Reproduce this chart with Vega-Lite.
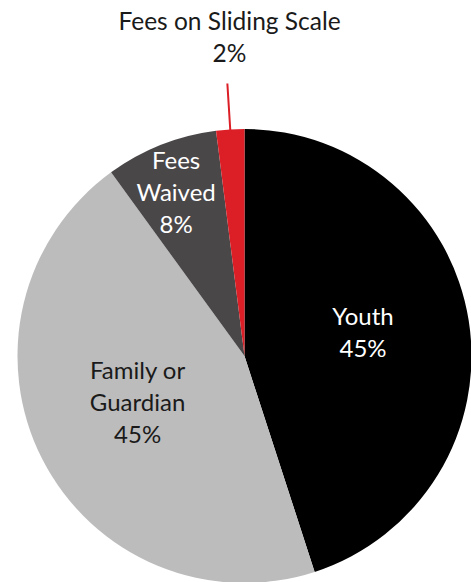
{
  "$schema": "https://vega.github.io/schema/vega-lite/v6.json",
  "width": 440,
  "height": 440,
  "autosize": {"type": "none"},
  "padding": {"left": 24.5, "top": 136, "right": 6.5, "bottom": 6},
  "background": "white",
  "config": {"view": {"stroke": null}},
  "data": {
    "values": [
      {"cat": "Youth", "value": 45, "o": 1, "label": "Youth\n45%"},
      {"cat": "Family or Guardian", "value": 45, "o": 2, "label": "Family or\nGuardian\n45%"},
      {"cat": "Fees Waived", "value": 8, "o": 3, "label": "Fees\nWaived\n8%"},
      {"cat": "Fees on Sliding Scale", "value": 2, "o": 4, "label": "Fees on Sliding Scale\n2%"}
    ]
  },
  "layer": [
    {
      "mark": {"type": "arc", "outerRadius": 227},
      "encoding": {
        "theta": {"field": "value", "type": "quantitative", "stack": true, "scale": {"domain": [0, 100]}},
        "order": {"field": "o", "type": "quantitative"},
        "color": {
          "field": "cat", "type": "nominal", "legend": null,
          "scale": {"domain": ["Youth", "Family or Guardian", "Fees Waived", "Fees on Sliding Scale"], "range": ["#000000", "#bcbcbc", "#4a4749", "#dc1e26"]}
        }
      }
    },
    {
      "mark": {"type": "text", "radius": 120, "dy": -19, "font": "Lato", "fontSize": 24, "lineBreak": "\n", "lineHeight": 32, "fill": "#ffffff", "align": "center", "baseline": "middle"},
      "encoding": {
        "theta": {"field": "value", "type": "quantitative", "stack": true, "scale": {"domain": [0, 100]}},
        "order": {"field": "o", "type": "quantitative"},
        "text": {"condition": {"test": "datum.o == 1", "field": "label"}, "value": ""}
      }
    },
    {
      "mark": {"type": "text", "radius": 120, "dy": -38, "font": "Lato", "fontSize": 24, "lineBreak": "\n", "lineHeight": 32, "fill": "#1a1a1a", "align": "center", "baseline": "middle"},
      "encoding": {
        "theta": {"field": "value", "type": "quantitative", "stack": true, "scale": {"domain": [0, 100]}},
        "order": {"field": "o", "type": "quantitative"},
        "text": {"condition": {"test": "datum.o == 2", "field": "label"}, "value": ""}
      }
    },
    {
      "mark": {"type": "text", "radius": 175, "dx": -4, "dy": -31, "font": "Lato", "fontSize": 24, "lineBreak": "\n", "lineHeight": 32, "fill": "#ffffff", "align": "center", "baseline": "middle"},
      "encoding": {
        "theta": {"field": "value", "type": "quantitative", "stack": true, "scale": {"domain": [0, 100]}},
        "order": {"field": "o", "type": "quantitative"},
        "text": {"condition": {"test": "datum.o == 3", "field": "label"}, "value": ""}
      }
    },
    {
      "mark": {"type": "text", "radius": 318, "dx": 5, "dy": -16, "font": "Lato", "fontSize": 24.5, "lineBreak": "\n", "lineHeight": 32, "fill": "#1a1a1a", "align": "center", "baseline": "middle"},
      "encoding": {
        "theta": {"field": "value", "type": "quantitative", "stack": true, "scale": {"domain": [0, 100]}},
        "order": {"field": "o", "type": "quantitative"},
        "text": {"condition": {"test": "datum.o == 4", "field": "label"}, "value": ""}
      }
    },
    {
      "transform": [
        {"window": [{"op": "sum", "field": "value", "as": "cum"}], "sort": [{"field": "o"}]},
        {"calculate": "datum.cum - datum.value / 2", "as": "mid"},
        {"filter": "datum.o == 4"}
      ],
      "mark": {"type": "arc", "innerRadius": 226, "outerRadius": 273, "stroke": "#dc1e26", "strokeWidth": 2, "fill": "#dc1e26"},
      "encoding": {
        "theta": {"field": "mid", "type": "quantitative", "stack": null, "scale": {"domain": [0, 100]}},
        "theta2": {"field": "mid"}
      }
    }
  ]
}
